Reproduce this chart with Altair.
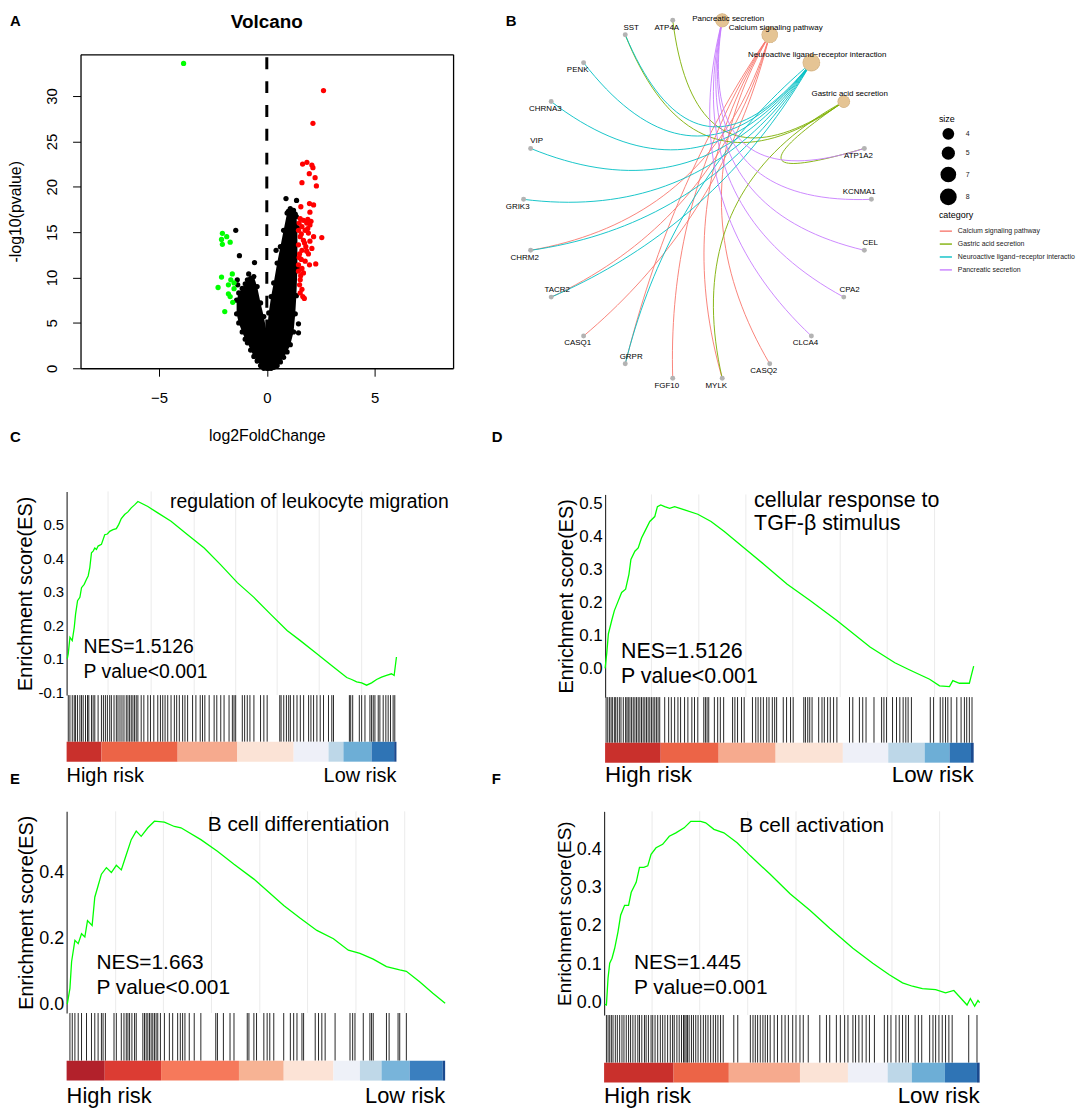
import math
import altair as alt
import pandas as pd

FONT = "Liberation Sans"

# ======================= Panel A : volcano =======================
green_fc = [-3.86, -2.06, -1.86, -2.10, -2.06, -1.70, -1.60, -2.10, -1.67, -1.78, -2.26, -1.52, -1.78, -1.70, -1.58, -1.95, -1.52]
green_p = [33.6, 14.87, 14.5, 14.2, 13.66, 13.9, 10.4, 10.05, 9.75, 9.2, 8.9, 8.77, 8.2, 7.9, 7.27, 6.25, 9.4]

red_fc = [2.63, 2.14, 1.66, 1.86, 2.09, 2.14, 1.97, 2.24, 1.63, 2.30, 1.98, 2.17, 1.58, 2.00, 1.55, 1.70,
          1.85, 2.00, 1.63, 1.47, 1.78, 1.93, 2.17, 2.55, 1.55, 1.70, 2.00, 1.47, 1.81, 1.63, 2.09, 1.52,
          1.93, 1.60, 1.78, 1.47, 1.98, 2.27, 1.63, 1.47, 1.70, 1.55, 1.52, 1.63, 1.55, 1.67, 1.74, 1.50,
          1.90, 1.60, 1.75, 1.50, 1.85, 1.57, 1.90, 2.05]
red_p = [30.6, 27.0, 22.5, 22.7, 22.4, 22.1, 21.45, 21.0, 20.45, 20.1, 18.15, 18.0, 17.8, 17.2, 16.5, 16.3,
         16.0, 15.8, 15.6, 15.2, 15.2, 14.9, 14.5, 14.4, 14.5, 14.1, 14.0, 13.6, 13.4, 13.0, 13.2, 12.6,
         12.6, 12.0, 11.8, 11.4, 11.4, 11.5, 11.0, 10.7, 10.5, 9.75, 9.2, 8.7, 8.3, 7.9, 7.7, 16.0,
         15.4, 14.8, 13.8, 12.2, 12.9, 10.2, 16.4, 16.2]

black_fc = [0.89, 1.38, -1.44, -1.27, -0.57, 0.43, -0.84, -1.37, 1.47, 1.47, 1.09, 1.24, 1.00, 1.15, -1.35]
black_p = [18.7, 18.5, 15.2, 12.4, 11.65, 13.0, 10.4, 9.75, 4.9, 3.9, 17.0, 17.2, 17.3, 16.8, 9.2]

# outline of the dense black cloud (lower / upper -log10 p for each log2FC)
cloud_fc = [-1.40, -1.30, -1.14, -1.00, -0.90, -0.75, -0.60, -0.45, -0.29, -0.14, 0.00, 0.09, 0.20,
            0.32, 0.48, 0.63, 0.78, 0.94, 1.09, 1.24, 1.32, 1.37, 1.42]
cloud_low = [6.0, 5.0, 4.0, 3.2, 2.8, 2.0, 1.3, 0.8, 0.3, 0.0, 0.0, 0.0, 0.0,
             0.1, 0.3, 0.7, 1.2, 1.8, 2.6, 4.0, 6.0, 8.0, 11.0]
cloud_high = [7.5, 8.3, 8.8, 9.3, 9.75, 9.9, 10.1, 9.0, 7.2, 5.7, 3.9, 6.1, 7.9,
              9.4, 11.6, 13.4, 15.2, 17.1, 17.6, 17.4, 17.0, 16.7, 15.5]

volcano_xticks = [-5, 0, 5]
volcano_yticks = [0, 5, 10, 15, 20, 25, 30]

# ======================= Panel B : gene-concept network =======================
net_nodes = ["Pancreatic secretion", "ATP4A", "SST", "PENK", "CHRNA3", "VIP", "GRIK3", "CHRM2", "TACR2",
             "CASQ1", "GRPR", "FGF10", "MYLK", "CASQ2", "CLCA4", "CPA2", "CEL", "KCNMA1", "ATP1A2",
             "Gastric acid secretion", "Neuroactive ligand\u2212receptor interaction", "Calcium signaling pathway"]
net_label_side = ["ar", "bl", "ar", "bl", "bl", "ar", "bl", "bl", "ar", "bl", "ar", "bl", "bl", "bl", "bl",
                  "ar", "ar", "al", "bl", "ar", "ar", "ar"]
cat_order = ["Calcium signaling pathway", "Gastric acid secretion",
             "Neuroactive ligand\u2212receptor interaction", "Pancreatic secretion"]
cat_colors = ["#F8766D", "#7CAE00", "#00BFC4", "#C77CFF"]
cat_genes = {
    "Calcium signaling pathway": ["CHRM2", "TACR2", "CASQ1", "GRPR", "FGF10", "CASQ2", "MYLK"],
    "Gastric acid secretion": ["SST", "ATP4A", "ATP1A2", "MYLK"],
    "Neuroactive ligand\u2212receptor interaction": ["SST", "PENK", "CHRNA3", "VIP", "GRIK3", "CHRM2", "TACR2", "GRPR"],
    "Pancreatic secretion": ["ATP1A2", "KCNMA1", "CEL", "CPA2", "CLCA4"],
}
size_legend_values = [4, 5, 7, 8]

# ======================= Panels C-F : GSEA =======================
C_rank = [2, 5, 10, 17, 23, 27, 33, 40, 45, 53, 60, 65, 70, 75, 80, 85, 90, 95, 105, 115, 123, 130, 140, 150,
          157, 165, 175, 185, 195, 205, 215, 245, 275, 315, 365, 415, 465, 515, 565, 615, 665, 705, 755,
          805, 845, 860, 875, 890, 905, 920, 935, 950, 965, 980, 988, 995]
C_es = [0.10, 0.115, 0.164, 0.154, 0.193, 0.233, 0.273, 0.283, 0.312, 0.322, 0.337, 0.347, 0.372, 0.416,
        0.421, 0.43, 0.426, 0.436, 0.441, 0.47, 0.472, 0.48, 0.485, 0.488, 0.50, 0.518, 0.53, 0.538, 0.55,
        0.559, 0.569, 0.554, 0.535, 0.51, 0.47, 0.43, 0.38, 0.327, 0.283, 0.233, 0.184, 0.154, 0.115,
        0.075, 0.044, 0.038, 0.031, 0.028, 0.021, 0.028, 0.038, 0.045, 0.05, 0.055, 0.05, 0.105]
C_hits = [5, 10, 17, 23, 27, 33, 40, 45, 50, 57, 63, 67, 75, 80, 85, 95, 105, 111, 117, 123, 130, 135, 143, 150,
          155, 161, 167, 173, 180, 185, 190, 195, 200, 205, 210, 215, 225, 233, 245, 253, 263, 275, 283, 290,
          297, 305, 315, 325, 332, 340, 350, 357, 365, 380, 390, 403, 410, 417, 430, 445, 453, 465, 475, 490,
          500, 505, 510, 530, 537, 545, 553, 565, 585, 595, 605, 643, 647, 655, 663, 670, 675, 685, 695, 705,
          715, 730, 737, 745, 755, 765, 775, 790, 800, 805, 853, 857, 863, 883, 890, 900, 915, 920, 925, 930,
          940, 945, 955, 963, 970, 977, 985, 990]
C_grid = [125, 255, 385, 510, 635, 762, 890]
C_n = 995
C_edges = [0, 105, 335, 515, 685, 790, 835, 920, 988, 995]
C_colors = ["#C9302C", "#EC6447", "#F6AA8E", "#FBE3D6", "#EEF0F8", "#BDD7E8", "#6DAED6", "#2F74B5", "#1B4A8F"]

D_rank = [0, 5, 10, 20, 28, 38, 50, 62, 72, 78, 90, 100, 110, 120, 135, 150, 158, 168, 180, 195, 210, 240,
          280, 320, 360, 420, 480, 550, 620, 700, 800, 875, 920, 980, 1010, 1040, 1050, 1070, 1100, 1105, 1113]
D_es = [0.0, 0.045, 0.105, 0.145, 0.175, 0.20, 0.23, 0.24, 0.285, 0.33, 0.355, 0.365, 0.395, 0.415, 0.445,
        0.46, 0.49, 0.495, 0.49, 0.485, 0.49, 0.48, 0.467, 0.445, 0.415, 0.365, 0.315, 0.255, 0.205, 0.145,
        0.065, 0.017, -0.005, -0.033, -0.053, -0.055, -0.037, -0.045, -0.045, -0.025, 0.007]
D_hits = [3, 8, 13, 18, 22, 28, 32, 37, 43, 48, 55, 62, 66, 70, 75, 80, 85, 90, 95, 100, 105, 110, 115, 120,
          125, 130, 135, 140, 145, 150, 155, 160, 165, 180, 192, 200, 210, 220, 228, 240, 250, 262, 270, 280,
          298, 303, 308, 313, 330, 340, 348, 358, 385, 392, 400, 412, 420, 445, 455, 462, 470, 478, 488, 495,
          505, 512, 518, 538, 548, 560, 568, 600, 605, 612, 618, 625, 645, 655, 662, 672, 680, 690, 700, 738,
          748, 768, 778, 788, 812, 835, 842, 850, 868, 880, 890, 900, 908, 915, 925, 982, 992, 1012, 1020,
          1028, 1035, 1045, 1062, 1075, 1085, 1092, 1100, 1108]
D_grid = [140, 283, 425, 567, 710, 852, 995]
D_n = 1113
D_edges = [0, 168, 343, 515, 718, 855, 965, 1040, 1105, 1113]
D_colors = ["#C9302C", "#EC6447", "#F6AA8E", "#FBE3D6", "#EEF0F8", "#BDD7E8", "#6DAED6", "#2F74B5", "#1B4A8F"]

E_rank = [2, 10, 15, 25, 35, 45, 55, 63, 77, 85, 95, 105, 120, 135, 150, 165, 177, 195, 210, 225, 245, 265,
          295, 325, 345, 405, 455, 505, 565, 605, 655, 705, 755, 805, 850, 885, 925, 965, 1005, 1025, 1065,
          1105, 1142]
E_es = [0.0, 0.048, 0.129, 0.194, 0.184, 0.214, 0.204, 0.254, 0.239, 0.325, 0.36, 0.395, 0.415, 0.40, 0.422,
        0.408, 0.445, 0.50, 0.526, 0.51, 0.536, 0.556, 0.553, 0.54, 0.536, 0.50, 0.465, 0.425, 0.38, 0.345,
        0.30, 0.261, 0.224, 0.199, 0.164, 0.154, 0.137, 0.114, 0.104, 0.10, 0.068, 0.033, 0.003]
E_hits = [10, 17, 25, 35, 45, 60, 75, 85, 95, 105, 110, 117, 143, 150, 165, 173, 180, 185, 190, 197, 205, 210,
          230, 235, 240, 245, 250, 255, 260, 265, 270, 275, 283, 295, 310, 320, 335, 343, 350, 357, 370, 385,
          405, 450, 455, 473, 493, 505, 545, 550, 565, 573, 595, 605, 613, 625, 655, 675, 685, 695, 710, 715,
          750, 760, 770, 780, 810, 855, 863, 870, 895, 915, 920, 925, 965, 973, 1000, 1005, 1025]
E_grid = [148, 292, 437, 583, 727, 873, 1020]
E_n = 1142
E_edges = [0, 115, 285, 520, 655, 805, 885, 950, 1035, 1135, 1142]
E_colors = ["#B2212B", "#DC3C33", "#F6795B", "#F7B394", "#FCE3D6", "#EEF1F8", "#BFD8E8", "#78B4DA", "#3A7FBF", "#1B4A8F"]

F_rank = [2, 7, 12, 17, 24, 32, 42, 50, 62, 74, 82, 97, 107, 120, 132, 142, 157, 177, 197, 217, 242, 262, 292,
          307, 332, 362, 402, 442, 502, 562, 622, 682, 752, 812, 862, 902, 932, 962, 1002, 1032, 1057, 1077,
          1097, 1107, 1120, 1130, 1135]
F_es = [-0.004, -0.006, 0.065, 0.103, 0.116, 0.142, 0.185, 0.228, 0.254, 0.254, 0.288, 0.314, 0.353, 0.353,
        0.357, 0.387, 0.404, 0.413, 0.434, 0.443, 0.456, 0.473, 0.473, 0.469, 0.452, 0.443, 0.417, 0.383,
        0.335, 0.284, 0.241, 0.194, 0.142, 0.103, 0.073, 0.052, 0.043, 0.037, 0.034, 0.026, 0.032, 0.013,
        -0.006, 0.011, -0.009, 0.006, 0.0]
F_hits = [7, 12, 17, 22, 27, 34, 40, 47, 54, 60, 67, 74, 80, 87, 94, 102, 107, 114, 122, 127, 134, 142, 147,
          154, 162, 170, 177, 184, 192, 200, 207, 212, 220, 227, 234, 240, 244, 248, 252, 257, 264, 270, 277,
          284, 292, 300, 307, 314, 322, 330, 337, 344, 352, 360, 392, 404, 442, 450, 457, 464, 472, 480, 487,
          494, 502, 514, 524, 537, 547, 557, 570, 580, 592, 602, 617, 652, 672, 682, 702, 714, 727, 737, 752,
          760, 770, 780, 792, 802, 817, 847, 857, 867, 882, 892, 902, 912, 920, 940, 950, 960, 984, 994, 1002,
          1012, 1022, 1032, 1042, 1052, 1102, 1127]
F_grid = [145, 289, 434, 580, 724, 870, 1014]
F_n = 1135
F_edges = [0, 210, 377, 592, 737, 857, 930, 1030, 1127, 1135]
F_colors = ["#C9302C", "#EC6447", "#F6AA8E", "#FBE3D6", "#EEF0F8", "#BDD7E8", "#6DAED6", "#2F74B5", "#1B4A8F"]

# grid of the figure: 2 columns x 3 rows of cells
COL_W = [440, 479]
ROW_H = [440, 322, 275]


# ======================= helpers =======================
def note(text, x, y, size, align="left", weight="normal", baseline="middle"):
    return alt.Chart(pd.DataFrame({"t": [text]})).mark_text(
        align=align, baseline=baseline, fontSize=size, fontWeight=weight, color="black", font=FONT
    ).encode(x=alt.value(x), y=alt.value(y), text="t:N")


# ----------------------- A -----------------------
VX0, VW, VH = 14, 375, 316
xs_v = alt.Scale(domain=[-8.64, 8.64], range=[VX0, VX0 + VW], nice=False, zero=False)
ys_v = alt.Scale(domain=[0, 34.6], range=[VH, 0], nice=False, zero=False)
xax_v = alt.Axis(values=volcano_xticks, title="log2FoldChange", grid=False, domain=True, domainColor="black",
                 domainWidth=1.3, tickColor="black", tickSize=8, labelFontSize=15, titleFontSize=16,
                 titleFontWeight="normal", labelPadding=14, titlePadding=23, labelColor="black",
                 titleColor="black", offset=-(ROW_H[0] - VH))
yax_v = alt.Axis(values=volcano_yticks, title="-log10(pvalue)", grid=False, domain=True, domainColor="black",
                 domainWidth=1.3, tickColor="black", tickSize=8, labelAngle=270, labelAlign="center",
                 labelBaseline="bottom", labelFontSize=15, titleFontSize=16, titleFontWeight="normal",
                 labelPadding=13, titlePadding=21, labelColor="black", titleColor="black", offset=-VX0)
top_ax = alt.Axis(orient="top", labels=False, ticks=False, title="", grid=False, domainColor="black", domainWidth=1.3)
right_ax = alt.Axis(orient="right", labels=False, ticks=False, title="", grid=False, domainColor="black",
                    domainWidth=1.3, offset=-(COL_W[0] - VX0 - VW))

cloud_df = pd.DataFrame({"fc": cloud_fc, "lo": cloud_low, "hi": cloud_high})
edge_pts = pd.DataFrame({"fc": cloud_fc + cloud_fc, "p": cloud_low + cloud_high})

PT = 28
v_rule = alt.Chart(pd.DataFrame({"x": [0]})).mark_rule(color="black", strokeWidth=3, strokeDash=[12, 12]).encode(
    x=alt.X("x:Q", scale=xs_v, axis=top_ax), y=alt.value(3), y2=alt.value(VH))
v_area = alt.Chart(cloud_df).mark_area(color="black", opacity=1).encode(
    x=alt.X("fc:Q", scale=xs_v, axis=xax_v), y=alt.Y("lo:Q", scale=ys_v, axis=yax_v), y2="hi:Q")
v_edge = alt.Chart(edge_pts).mark_circle(color="black", size=PT, opacity=1).encode(
    x=alt.X("fc:Q", scale=xs_v, axis=None), y=alt.Y("p:Q", scale=ys_v, axis=None))
v_black = alt.Chart(pd.DataFrame({"fc": black_fc, "p": black_p})).mark_circle(color="black", size=PT, opacity=1).encode(
    x=alt.X("fc:Q", scale=xs_v, axis=None), y=alt.Y("p:Q", scale=ys_v, axis=None))
v_green = alt.Chart(pd.DataFrame({"fc": green_fc, "p": green_p})).mark_circle(color="#00FF00", size=PT, opacity=1).encode(
    x=alt.X("fc:Q", scale=xs_v, axis=None), y=alt.Y("p:Q", scale=ys_v, axis=right_ax))
v_red = alt.Chart(pd.DataFrame({"fc": red_fc, "p": red_p})).mark_circle(color="#FF0000", size=PT, opacity=1).encode(
    x=alt.X("fc:Q", scale=xs_v, axis=None), y=alt.Y("p:Q", scale=ys_v, axis=None))

volcano = alt.layer(
    v_rule, v_area, v_edge, v_black, v_green, v_red,
    note("Volcano", VX0 + VW / 2, -32, 19, align="center", weight="bold"),
    note("A", -57, -29, 15, weight="bold", baseline="alphabetic"),
).resolve_axis(x="independent", y="independent").properties(width=COL_W[0], height=ROW_H[0])

# ----------------------- B -----------------------
n_nodes = len(net_nodes)
step = 2 * math.pi / n_nodes
start = math.pi / 2 - step / 2
pos = {nm: (math.cos(start + i * step), math.sin(start + i * step)) for i, nm in enumerate(net_nodes)}

edge_rows = []
eid = 0
for cat in cat_order:
    for gene in cat_genes[cat]:
        x0, y0 = pos[cat]
        x2, y2 = pos[gene]
        mx, my = (x0 + x2) / 2, (y0 + y2) / 2
        d = math.hypot(mx, my)
        c = math.hypot(x2 - x0, y2 - y0)
        ux, uy = -mx / d, -my / d
        sag = 0.45 * d + 0.05 * c
        cx, cy = mx + ux * 2 * sag, my + uy * 2 * sag
        for k in range(41):
            t = k / 40
            bx = (1 - t) ** 2 * x0 + 2 * (1 - t) * t * cx + t * t * x2
            by = (1 - t) ** 2 * y0 + 2 * (1 - t) * t * cy + t * t * y2
            edge_rows.append({"edge": eid, "t": k, "x": bx, "y": by, "category": cat})
        eid += 1
edge_df = pd.DataFrame(edge_rows)

gene_names = [n for n in net_nodes if n not in cat_genes]
gene_df = pd.DataFrame({"name": gene_names, "x": [pos[g][0] for g in gene_names], "y": [pos[g][1] for g in gene_names]})
cat_df = pd.DataFrame({"name": cat_order, "x": [pos[c][0] for c in cat_order], "y": [pos[c][1] for c in cat_order],
                       "size": [len(cat_genes[c]) for c in cat_order]})
lab_rows = []
for nm, side in zip(net_nodes, net_label_side):
    x, y = pos[nm]
    dx = 0.034 if side[1] == "r" else -0.034
    if nm == "KCNMA1":
        dx = -0.07
    dy = 0.04 if side[0] == "a" else -0.04
    if nm == "Pancreatic secretion":
        dy = 0.01
    lab_rows.append({"name": nm, "lx": x + dx, "ly": y + dy})
lab_df = pd.DataFrame(lab_rows)

xs_n = alt.Scale(domain=[-1.114, 1.114], range=[0, 390], nice=False, zero=False)
ys_n = alt.Scale(domain=[-0.934, 0.802], range=[316, 0], nice=False, zero=False)
size_scale = alt.Scale(domain=[4, 8], range=[140, 285], zero=False)
trunc = ("datum.label == 'Neuroactive ligand\u2212receptor interaction' ? "
         "'Neuroactive ligand\u2212receptor interactio' : datum.label")

n_edges = alt.Chart(edge_df).mark_line(strokeWidth=1, opacity=0.9).encode(
    x=alt.X("x:Q", scale=xs_n, axis=None), y=alt.Y("y:Q", scale=ys_n, axis=None),
    detail="edge:N", order="t:Q",
    color=alt.Color("category:N", scale=alt.Scale(domain=cat_order, range=cat_colors),
                    legend=alt.Legend(title="category", orient="none", legendX=438, legendY=158,
                                      symbolType="stroke", symbolSize=150, symbolStrokeWidth=1.5,
                                      labelFontSize=7, titleFontSize=9, titleFontWeight="normal",
                                      labelLimit=300, rowPadding=3, titlePadding=4, labelOffset=5,
                                      labelExpr=trunc, labelColor="#222222", titleColor="black")))
n_genes = alt.Chart(gene_df).mark_circle(size=25, color="#B3B3B3", opacity=1).encode(
    x=alt.X("x:Q", scale=xs_n, axis=None), y=alt.Y("y:Q", scale=ys_n, axis=None))
# black discs underneath the category nodes carry the (black) size legend
n_cats_under = alt.Chart(cat_df).mark_circle(color="black", opacity=1).encode(
    x=alt.X("x:Q", scale=xs_n, axis=None), y=alt.Y("y:Q", scale=ys_n, axis=None),
    size=alt.Size("size:Q", scale=size_scale,
                  legend=alt.Legend(title="size", orient="none", legendX=438, legendY=61,
                                    values=size_legend_values, labelFontSize=7,
                                    titleFontSize=9, titleFontWeight="normal", rowPadding=0,
                                    titlePadding=3, labelOffset=8, labelColor="#222222",
                                    titleColor="black", symbolFillColor="black",
                                    symbolStrokeColor="black", symbolOpacity=1)))
n_cats = alt.Chart(cat_df).mark_circle(color="#E5C494", opacity=1, stroke="#E5C494", strokeWidth=1).encode(
    x=alt.X("x:Q", scale=xs_n, axis=None), y=alt.Y("y:Q", scale=ys_n, axis=None),
    size=alt.Size("size:Q", scale=size_scale, legend=None))
n_labels = alt.Chart(lab_df).mark_text(fontSize=8, color="black", font=FONT).encode(
    x=alt.X("lx:Q", scale=xs_n, axis=None), y=alt.Y("ly:Q", scale=ys_n, axis=None), text="name:N")

network = alt.layer(n_cats_under, n_edges, n_genes, n_cats, n_labels,
                    note("B", 2, -29, 15, weight="bold", baseline="alphabetic")
                    ).properties(width=COL_W[1], height=ROW_H[0])


# ----------------------- GSEA -----------------------
def gsea(rank, es, hits, grid, n, edges, colors, ydom, yticks, yfmt_expr, title_lines, nes_lines,
         x0, y0, w, h_es, h_bar, h_strip, cell_w, cell_h, fs_tick, fs_ytitle, fs_text, fs_risk,
         title_xy, title_gap, nes_xy, nes_gap, letter, letter_xy, risk_dy):
    xs = alt.Scale(domain=[0, n], range=[x0, x0 + w], nice=False, zero=False)
    ys = alt.Scale(domain=ydom, range=[y0 + h_es, y0], nice=False, zero=False)
    y_bar = y0 + h_es
    y_strip = y_bar + h_bar
    g = alt.Chart(pd.DataFrame({"g": grid})).mark_rule(color="#EBEBEB", strokeWidth=1).encode(
        x=alt.X("g:Q", scale=xs, axis=None), y=alt.value(y0), y2=alt.value(y_bar))
    curve = alt.Chart(pd.DataFrame({"rank": rank, "es": es})).mark_line(color="#00FF00", strokeWidth=1.3).encode(
        x=alt.X("rank:Q", scale=xs, axis=None),
        y=alt.Y("es:Q", scale=ys, axis=alt.Axis(
            values=yticks, labelExpr=yfmt_expr, title="Enrichment score(ES)", grid=False, ticks=False,
            domainColor="#333333", domainWidth=1.2, labelFontSize=fs_tick, titleFontSize=fs_ytitle,
            titleFontWeight="normal", labelPadding=3, titlePadding=2, labelColor="black", titleColor="black",
            offset=-x0)))
    bar = alt.Chart(pd.DataFrame({"h": hits})).mark_rule(color="black", strokeWidth=1, opacity=0.85).encode(
        x=alt.X("h:Q", scale=xs, axis=None), y=alt.value(y_bar), y2=alt.value(y_strip))
    sdf = pd.DataFrame({"a": edges[:-1], "b": edges[1:], "c": colors})
    rects = alt.Chart(sdf).mark_rect().encode(
        x=alt.X("a:Q", scale=xs, axis=None), x2="b:Q", y=alt.value(y_strip), y2=alt.value(y_strip + h_strip),
        color=alt.Color("c:N", scale=None))
    layers = [g, bar, rects, curve]
    for i, t in enumerate(title_lines):
        layers.append(note(t, x0 + title_xy[0], y0 + title_xy[1] + i * title_gap, fs_text))
    for i, t in enumerate(nes_lines):
        layers.append(note(t, x0 + nes_xy[0], y0 + nes_xy[1] + i * nes_gap, fs_text))
    layers.append(note("High risk", x0, y_strip + h_strip + risk_dy, fs_risk))
    layers.append(note("Low risk", x0 + w, y_strip + h_strip + risk_dy, fs_risk, align="right"))
    layers.append(note(letter, letter_xy[0], letter_xy[1], 15, weight="bold", baseline="alphabetic"))
    return alt.layer(*layers).properties(width=cell_w, height=cell_h)


fmt1 = "format(datum.value, '.1f')"
panel_C = gsea(C_rank, C_es, C_hits, C_grid, C_n, C_edges, C_colors, [-0.0086, 0.599],
               [0, 0.1, 0.2, 0.3, 0.4, 0.5], "datum.value == 0 ? '-0.1' : format(datum.value, '.1f')",
               ["regulation of leukocyte migration"], ["NES=1.5126", "P value<0.001"],
               0, 0, 332, 205, 47, 20, COL_W[0], ROW_H[1], 15, 20, 19.5, 20,
               (104, 11), 0, (17, 157), 25, "C", (-57, -50), 14)
panel_D = gsea(D_rank, D_es, D_hits, D_grid, D_n, D_edges, D_colors, [-0.087, 0.527],
               [0, 0.1, 0.2, 0.3, 0.4, 0.5], fmt1,
               ["cellular response to", "TGF-\u03b2 stimulus"], ["NES=1.5126", "P value<0.001"],
               102, 3, 371, 204, 46, 20, COL_W[1], ROW_H[1], 17, 20, 21.5, 22.5,
               (150, 7), 23, (16, 159), 25, "D", (-12, -50), 12)
panel_E = gsea(E_rank, E_es, E_hits, E_grid, E_n, E_edges, E_colors, [-0.027, 0.586],
               [0, 0.2, 0.4], fmt1,
               ["B cell differentiation"], ["NES=1.663", "P value<0.001"],
               0, 0, 381, 203, 48, 20, COL_W[0], ROW_H[2], 18, 20, 21, 22,
               (142, 14), 0, (30, 153), 25, "E", (-57, -28), 16)
panel_F = gsea(F_rank, F_es, F_hits, F_grid, F_n, F_edges, F_colors, [-0.032, 0.499],
               [0, 0.1, 0.2, 0.3, 0.4], fmt1,
               ["B cell activation"], ["NES=1.445", "P value=0.001"],
               101, 0, 378, 205, 48, 20, COL_W[1], ROW_H[2], 18, 19, 21, 22.5,
               (136, 15), 0, (30, 153), 25, "F", (-12, -28), 14)

chart = alt.concat(
    volcano, network, panel_C, panel_D, panel_E, panel_F,
    columns=2, spacing=0, bounds="flush",
).resolve_scale(color="independent", size="independent").properties(
    padding=0
).configure(font=FONT).configure_view(strokeWidth=0).configure_axis(
    labelFont=FONT, titleFont=FONT).configure_legend(labelFont=FONT, titleFont=FONT).configure_text(
    font=FONT)

chart.save("out.html", embed_options={"renderer": "svg", "actions": False})
